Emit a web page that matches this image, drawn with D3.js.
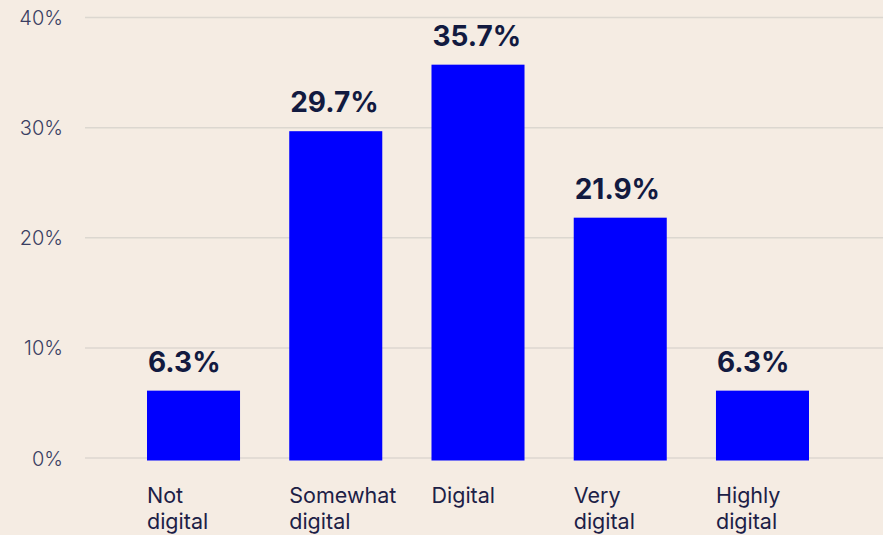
<!DOCTYPE html>
<html>
<head>
<meta charset="utf-8">
<script src="https://cdn.jsdelivr.net/npm/d3@7"></script>
<style>
  html, body { margin: 0; padding: 0; background: #f5ece3; }
  svg { display: block; font-family: Inter, "Noto Sans", sans-serif; }
</style>
</head>
<body>
<svg id="chart" width="883" height="535"></svg>
<script>
// Share of respondents by digital maturity level
const categories = [["Not", "digital"], ["Somewhat", "digital"], ["Digital"], ["Very", "digital"], ["Highly", "digital"]];
const shares = [6.3, 29.7, 35.7, 21.9, 6.3];
const tickValues = [0, 10, 20, 30, 40];

const svg = d3.select("#chart");
const W = 883, H = 535;

svg.append("rect").attr("width", W).attr("height", H).attr("fill", "#f5ece3");

const x = d3.scaleBand()
  .domain(d3.range(categories.length))
  .range([147, 809])
  .paddingInner(0.346)
  .paddingOuter(0);

// grid scale and bar scale
const y = d3.scaleLinear().domain([0, 40]).range([458, 17.5]);
const yBar = d3.scaleLinear().domain([0, 40]).range([460.5, 17]);

// gridlines
svg.append("g")
  .selectAll("line")
  .data(tickValues)
  .join("line")
  .attr("x1", 85).attr("x2", W)
  .attr("y1", d => y(d)).attr("y2", d => y(d))
  .attr("stroke", "#dcd7d0")
  .attr("stroke-width", 1.5);

// y axis labels
svg.append("g")
  .selectAll("text")
  .data(tickValues)
  .join("text")
  .attr("x", 63)
  .attr("y", d => y(d))
  .attr("dy", "0.38em")
  .attr("text-anchor", "end")
  .attr("font-size", 20)
  .attr("font-weight", 300)
  .attr("fill", "#3a3e62")
  .text(d => d + "%");

// bars
svg.append("g")
  .selectAll("rect")
  .data(shares)
  .join("rect")
  .attr("x", (d, i) => x(i))
  .attr("width", x.bandwidth())
  .attr("y", d => yBar(d))
  .attr("height", d => yBar(0) - yBar(d))
  .attr("fill", "#0000ff");

// value labels, left-aligned with each bar
svg.append("g")
  .selectAll("text")
  .data(shares)
  .join("text")
  .attr("x", (d, i) => x(i) + 1)
  .attr("y", d => yBar(d) - 19)
  .attr("text-anchor", "start")
  .attr("font-size", 28)
  .attr("font-weight", 700)
  .attr("fill", "#121a40")
  .text(d => d.toFixed(1) + "%");

// category labels
const cat = svg.append("g")
  .selectAll("text")
  .data(categories)
  .join("text")
  .attr("x", (d, i) => x(i))
  .attr("y", 503)
  .attr("font-size", 21.5)
  .attr("font-weight", 400)
  .attr("fill", "#1c2046");

cat.selectAll("tspan")
  .data(d => d)
  .join("tspan")
  .attr("x", function () { return d3.select(this.parentNode).attr("x"); })
  .attr("dy", (d, j) => j === 0 ? 0 : 26)
  .text(d => d);
</script>
</body>
</html>
